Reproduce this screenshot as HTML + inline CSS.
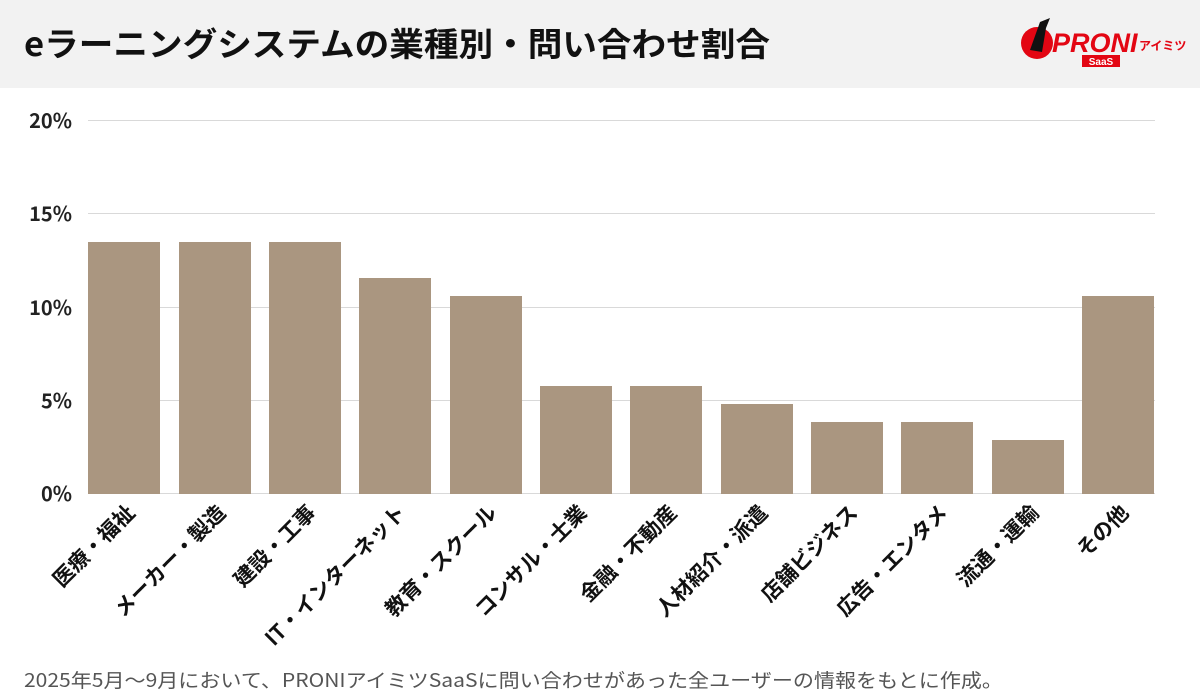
<!DOCTYPE html>
<html><head><meta charset="utf-8"><style>
body{margin:0;width:1200px;height:700px;background:#fff;overflow:hidden;}
</style></head><body>
<svg width="1200" height="700" xmlns="http://www.w3.org/2000/svg" style="position:absolute;left:0;top:0;font-family:'Noto Sans CJK JP','Liberation Sans',sans-serif">
<rect x="0" y="0" width="1200" height="88" fill="#f2f2f2"/>
<text x="24" y="56" font-size="33" font-weight="bold" fill="#111" textLength="746" lengthAdjust="spacingAndGlyphs">eラーニングシステムの業種別・問い合わせ割合</text>
<!-- logo -->
<circle cx="1037" cy="43" r="16" fill="#e30613"/>
<path d="M1030 50 L1040 22 L1050 18 L1046 28 L1042 52 Z" fill="#111"/>
<text x="1052" y="52" font-size="27" font-weight="bold" font-style="italic" fill="#e30613" font-family="Liberation Sans">PRONI</text>
<text x="1139" y="50" font-size="12" font-weight="bold" fill="#e30613">アイミツ</text>
<rect x="1082" y="55" width="38" height="12" fill="#e30613"/>
<text x="1101" y="65" font-size="10" font-weight="bold" fill="#fff" text-anchor="middle" font-family="Liberation Sans">SaaS</text>
<!-- grid -->
<g stroke="#d9d9d9" stroke-width="1">
<line x1="88" x2="1155" y1="120.5" y2="120.5"/>
<line x1="88" x2="1155" y1="213.5" y2="213.5"/>
<line x1="88" x2="1155" y1="307.5" y2="307.5"/>
<line x1="88" x2="1155" y1="400.5" y2="400.5"/>
<line x1="88" x2="1155" y1="493.5" y2="493.5"/>
</g>
<g font-size="20" font-weight="bold" fill="#222" text-anchor="end">
<text x="72" y="128">20%</text><text x="72" y="221">15%</text><text x="72" y="315">10%</text><text x="72" y="408">5%</text><text x="72" y="501">0%</text>
</g>
<g fill="#aa9680">
<rect x="88" y="242" width="72" height="252"/>
<rect x="179" y="242" width="72" height="252"/>
<rect x="269" y="242" width="72" height="252"/>
<rect x="359" y="278" width="72" height="216"/>
<rect x="450" y="296" width="72" height="198"/>
<rect x="540" y="386" width="72" height="108"/>
<rect x="630" y="386" width="72" height="108"/>
<rect x="721" y="404" width="72" height="90"/>
<rect x="811" y="422" width="72" height="72"/>
<rect x="901" y="422" width="72" height="72"/>
<rect x="992" y="440" width="72" height="54"/>
<rect x="1082" y="296" width="72" height="198"/>
</g>
<g font-size="21" font-weight="bold" fill="#111" text-anchor="end">
<text transform="translate(136,514) rotate(-45)">医療・福祉</text>
<text transform="translate(227,514) rotate(-45)">メーカー・製造</text>
<text transform="translate(317,514) rotate(-45)">建設・工事</text>
<text transform="translate(407,514) rotate(-45)">IT・インターネット</text>
<text transform="translate(498,514) rotate(-45)">教育・スクール</text>
<text transform="translate(588,514) rotate(-45)">コンサル・士業</text>
<text transform="translate(678,514) rotate(-45)">金融・不動産</text>
<text transform="translate(769,514) rotate(-45)">人材紹介・派遣</text>
<text transform="translate(859,514) rotate(-45)">店舗ビジネス</text>
<text transform="translate(949,514) rotate(-45)">広告・エンタメ</text>
<text transform="translate(1040,514) rotate(-45)">流通・運輸</text>
<text transform="translate(1130,514) rotate(-45)">その他</text>
</g>
<text x="24" y="687" font-size="19" fill="#555" textLength="979" lengthAdjust="spacingAndGlyphs">2025年5月〜9月において、PRONIアイミツSaaSに問い合わせがあった全ユーザーの情報をもとに作成。</text>
</svg>
</body></html>
